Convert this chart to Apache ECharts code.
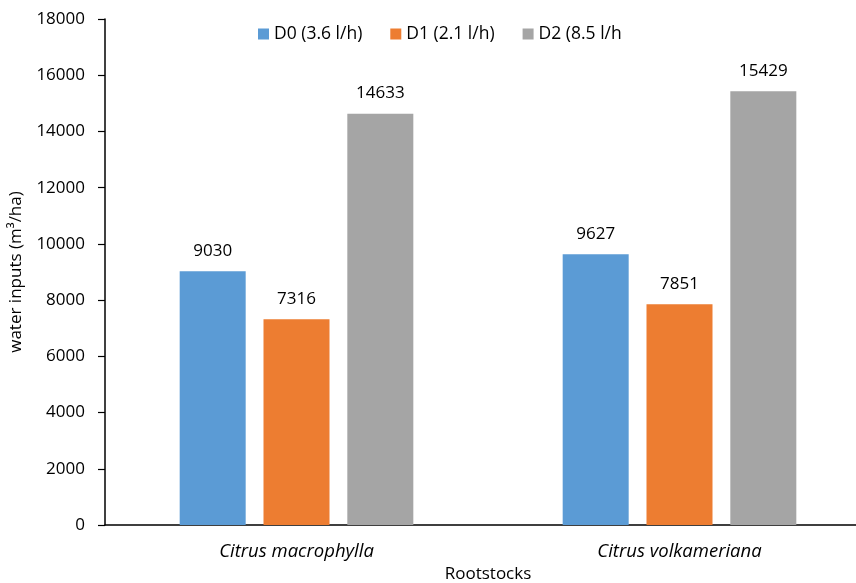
<!DOCTYPE html>
<html>
<head>
<meta charset="utf-8">
<script src="https://cdn.jsdelivr.net/npm/echarts@6/dist/echarts.min.js"></script>
<style>
  html, body { margin: 0; padding: 0; background: #fff; }
  #chart { width: 856px; height: 583px; }
</style>
</head>
<body>
<div id="chart"></div>
<script>
// Rootstocks on the category axis
const rootstocks = ['Citrus macrophylla', 'Citrus volkameriana'];
// Seasonal water inputs (m³/ha) per dripper treatment
const seriesNames = ['D0 (3.6 l/h)', 'D1 (2.1 l/h)', 'D2 (8.5 l/h'];
const d0Values = [9030, 9627];
const d1Values = [7316, 7851];
const d2Values = [14633, 15429];
const seriesColors = ['#5B9BD5', '#ED7D31', '#A5A5A5'];
const yTicks = { min: 0, max: 18000, step: 2000 };

const font = '"Open Sans", "Liberation Sans", sans-serif';
const chart = echarts.init(document.getElementById('chart'), null, { renderer: 'canvas' });

const valueSets = [d0Values, d1Values, d2Values];

chart.setOption({
  animation: false,
  textStyle: { fontFamily: font },
  grid: { left: 105, right: -15, top: 19, bottom: 58, containLabel: false, outerBoundsMode: 'none' },
  legend: {
    top: 20,
    left: 253,
    itemWidth: 11,
    itemHeight: 11,
    itemGap: 28,
    icon: 'rect',
    textStyle: { fontFamily: font, fontSize: 17.5, color: '#000' },
    data: seriesNames
  },
  xAxis: {
    type: 'category',
    data: rootstocks,
    name: 'Rootstocks',
    nameLocation: 'middle',
    nameGap: 40,
    nameTextStyle: { fontFamily: font, fontSize: 17, color: '#000' },
    axisLine: { lineStyle: { color: '#000', width: 1.5 } },
    axisTick: { show: false },
    axisLabel: { fontFamily: font, fontSize: 18.5, fontStyle: 'italic', color: '#000', margin: 17 }
  },
  yAxis: {
    type: 'value',
    min: yTicks.min,
    max: yTicks.max,
    interval: yTicks.step,
    name: 'water inputs (m³/ha)',
    nameLocation: 'middle',
    nameRotate: 90,
    nameGap: 80,
    nameTextStyle: { fontFamily: font, fontSize: 17, color: '#000' },
    axisLine: { show: true, lineStyle: { color: '#000', width: 1.5 } },
    axisTick: { show: true, inside: false, length: 7, lineStyle: { color: '#000', width: 1.2 } },
    splitLine: { show: false },
    axisLabel: { fontFamily: font, fontSize: 17, color: '#000', margin: 20, formatter: v => String(v) }
  },
  series: seriesNames.map((name, i) => ({
    name: name,
    type: 'bar',
    data: valueSets[i],
    barWidth: 66,
    barGap: '27%',
    itemStyle: { color: seriesColors[i] },
    label: {
      show: true,
      position: 'top',
      distance: 12,
      fontFamily: font,
      fontSize: 17,
      color: '#000'
    }
  }))
});
</script>
</body>
</html>
